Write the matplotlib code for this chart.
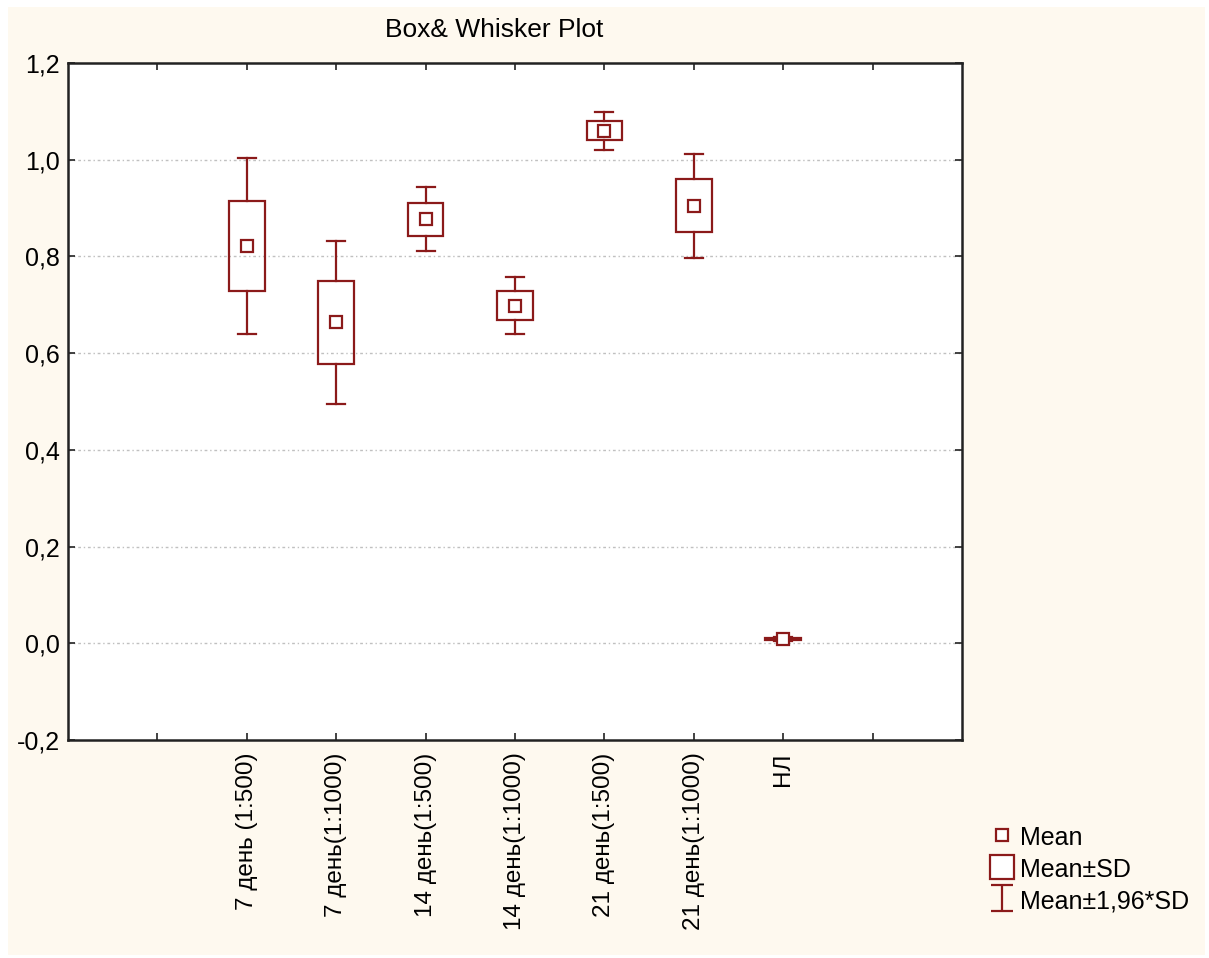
import matplotlib
matplotlib.use("Agg")
import numpy as np
from matplotlib import pyplot as plt
from matplotlib.patches import Rectangle
from matplotlib.lines import Line2D
from matplotlib.path import Path

# data
groups = ["7 день (1:500)", "7 день(1:1000)", "14 день(1:500)", "14 день(1:1000)",
          "21 день(1:500)", "21 день(1:1000)", "НЛ"]
means = [0.822, 0.664, 0.877, 0.698, 1.060, 0.905, 0.009]
sds = [0.093, 0.086, 0.034, 0.030, 0.020, 0.055, 0.002]
k = 1.96

col = "#8b1a1a"
bg = "#fef9ef"
plt.rcParams['font.family'] = ['Liberation Sans', 'DejaVu Sans']

W, H = 1209, 958
fig = plt.figure(figsize=(W / 100, H / 100), dpi=100, facecolor="white")
fig.patches.append(Rectangle((8 / W, 3 / H), 1197 / W, 948 / H, transform=fig.transFigure,
                             facecolor=bg, edgecolor="none", zorder=-10))

ax = fig.add_axes([68 / W, 1 - 740 / H, (962 - 68) / W, (740 - 63) / H])
ax.set_facecolor("white")

pos = np.arange(2, 2 + len(groups))
bw, cw = 0.40, 0.20
for x, m, s in zip(pos, means, sds):
    lo, hi = m - s, m + s
    wlo, whi = m - k * s, m + k * s
    ax.add_patch(Rectangle((x - bw / 2, lo), bw, hi - lo, facecolor="none",
                           edgecolor=col, lw=1.6, zorder=3))
    ax.plot([x, x], [hi, whi], color=col, lw=1.6, zorder=3)
    ax.plot([x, x], [lo, wlo], color=col, lw=1.6, zorder=3)
    ax.plot([x - cw / 2, x + cw / 2], [whi, whi], color=col, lw=1.6, zorder=3)
    ax.plot([x - cw / 2, x + cw / 2], [wlo, wlo], color=col, lw=1.6, zorder=3)
    ax.plot([x], [m], marker="s", ms=8, mfc="white", mec=col, mew=1.6, ls="none", zorder=4)

ax.set_xlim(0, 10)
ax.set_ylim(-0.2, 1.2)
ax.set_xticks(np.arange(1, 10))
ax.set_xticklabels([""] + groups + [""], rotation=90, fontsize=17.5, va="top")
yt = np.round(np.arange(-0.2, 1.21, 0.2), 1)
ax.set_yticks(yt)
ax.set_yticklabels([("%.1f" % v).replace(".", ",") for v in yt], fontsize=18)
ax.tick_params(direction="in", length=5, width=1.2, top=True, right=True, color="#222222", pad=6)
ax.tick_params(axis="x", pad=9)
for v in yt[1:-1]:
    ax.axhline(v, color="#c0c0c0", lw=1.0, ls=(0, (2, 2, 1, 2)), zorder=1)
for sp in ax.spines.values():
    sp.set_linewidth(1.8)
    sp.set_color("#222222")

fig.text(494 / W, 1 - 30 / H, "Box& Whisker Plot", fontsize=19, ha="center", va="center")

ibeam = Path([(-0.8, 1), (0.8, 1), (0, 1), (0, -1), (-0.8, -1), (0.8, -1)],
             [Path.MOVETO, Path.LINETO, Path.MOVETO, Path.LINETO, Path.MOVETO, Path.LINETO])
handles = [
    Line2D([], [], marker="s", ms=8, mfc="white", mec=col, mew=1.6, ls="none"),
    Line2D([], [], marker="s", ms=17, mfc="white", mec=col, mew=1.6, ls="none"),
    Line2D([], [], marker=ibeam, ms=19, mfc="none", mec=col, mew=1.6, ls="none"),
]
fig.legend(handles, ["Mean", "Mean±SD", "Mean±1,96*SD"], loc="upper left",
           bbox_to_anchor=(977 / W, 1 - 812 / H), frameon=False, fontsize=18,
           handlelength=1.0, handleheight=1.1, handletextpad=0.2, labelspacing=0.25,
           borderpad=0)

fig.savefig("out.png", dpi=100, facecolor=fig.get_facecolor())
